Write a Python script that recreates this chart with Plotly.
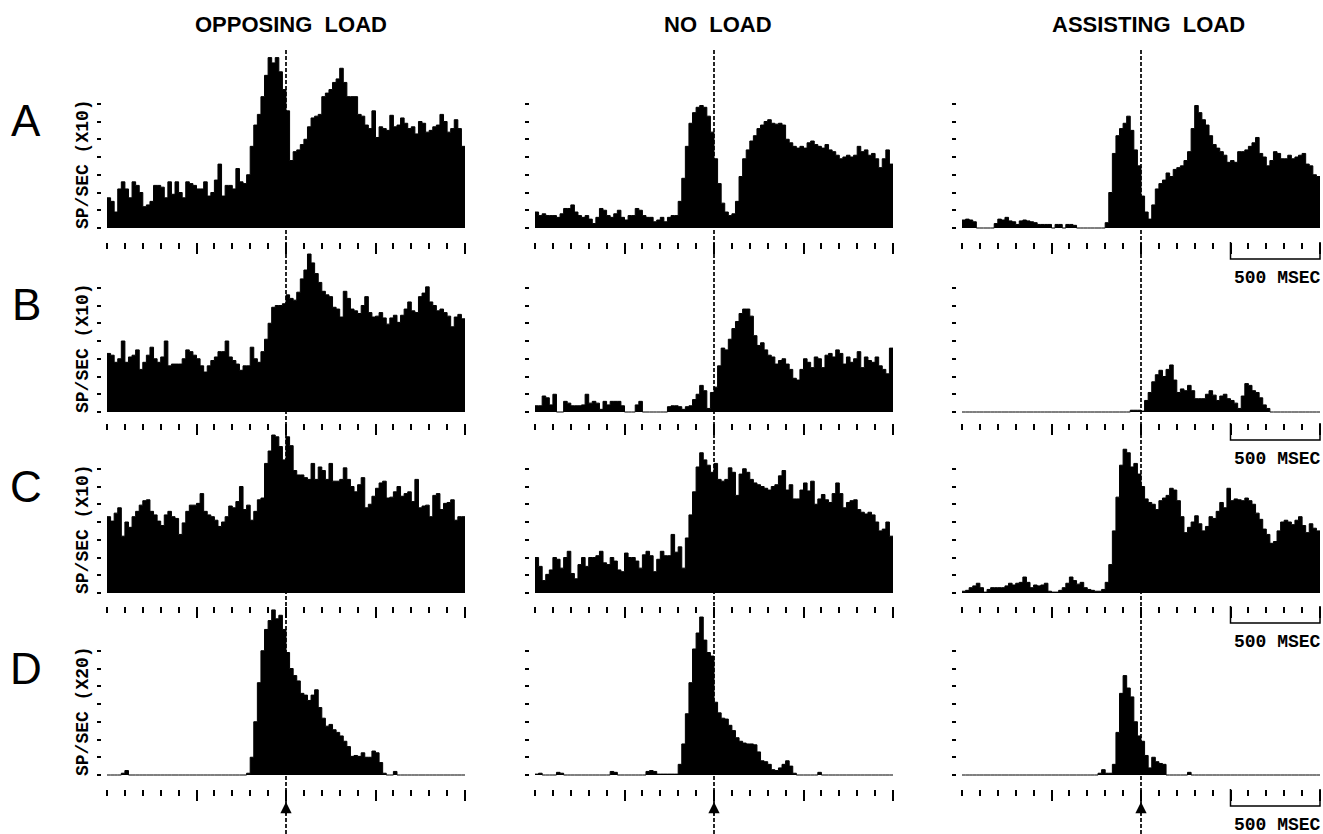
import plotly.graph_objects as go

# ---------------- data ----------------
BIN_MS = 20
T_START_MS = -1000
T_END_MS = 1000
EVENT_MS = 0
SCALE_BAR_MS = [500, 1000]
SCALE_LABEL = "500 MSEC"
COLUMN_TITLES = ["OPPOSING  LOAD", "NO  LOAD", "ASSISTING  LOAD"]
ROW_LETTERS = ["A", "B", "C", "D"]
Y_LABELS = ["SP/SEC (X10)", "SP/SEC (X10)", "SP/SEC (X10)", "SP/SEC (X20)"]
X_MAJOR_TICKS = [-500, 0, 500, 1000]
X_MINOR_TICKS = [-1000, -900, -800, -700, -600, -500, -400, -300, -200, -100, 0,
                 100, 200, 300, 400, 500, 600, 700, 800, 900, 1000]
Y_TICKS = [0, 1, 2, 3, 4, 5, 6, 7]

A_opposing = [1.7, 1.5, 0.9, 2.2, 2.6, 2.2, 1.7, 2.6, 2.4, 2.0,
              1.2, 1.3, 1.5, 2.4, 2.4, 2.3, 1.7, 2.6, 1.9, 2.6,
              2.0, 1.7, 2.6, 2.5, 2.4, 2.2, 2.2, 2.6, 1.8, 2.0,
              2.7, 3.6, 1.8, 2.4, 2.4, 2.2, 3.35, 2.6, 2.5, 3.0,
              4.6, 5.8, 6.4, 7.4, 8.6, 9.6, 9.3, 9.6, 8.8, 7.8,
              6.6, 3.8, 4.3, 4.4, 4.7, 5.0, 5.7, 6.2, 6.3, 6.4,
              7.4, 7.6, 7.8, 8.2, 8.4, 9.0, 8.2, 7.4, 7.4, 7.4,
              6.4, 6.3, 5.8, 5.6, 6.6, 5.1, 5.7, 5.6, 5.5, 6.35,
              5.7, 5.8, 6.2, 5.9, 5.6, 5.7, 5.3, 6.0, 5.9, 5.4,
              5.5, 5.7, 5.8, 6.4, 6.0, 5.4, 5.6, 6.1, 5.6, 4.6]
A_noload = [0.9, 0.7, 0.8, 0.7, 0.7, 0.7, 0.6, 0.8, 1.1, 1.1,
            1.3, 0.9, 0.7, 0.6, 0.7, 0.5, 0.25, 0.6, 1.1, 1.0,
            0.7, 0.6, 0.8, 1.0, 0.6, 0.45, 0.7, 0.7, 1.1, 1.0,
            0.7, 0.6, 0.6, 0.35, 0.45, 0.6, 0.35, 0.6, 0.7, 0.7,
            1.5, 2.8, 4.6, 5.9, 6.5, 6.8, 6.9, 6.8, 6.3, 5.4,
            3.9, 2.5, 1.4, 0.9, 0.7, 0.8, 1.5, 2.9, 3.9, 4.4,
            4.9, 5.2, 5.6, 5.8, 6.0, 6.1, 5.9, 5.85, 5.9, 5.8,
            5.0, 4.8, 4.6, 4.5, 4.6, 4.5, 4.8, 4.9, 4.7, 4.6,
            4.5, 4.7, 4.4, 4.3, 4.1, 3.9, 4.0, 4.1, 4.0, 4.1,
            4.6, 4.3, 4.4, 4.1, 4.2, 3.9, 3.4, 3.9, 4.4, 3.6]
A_assisting = [0.45, 0.5, 0.45, 0.35, 0, 0, 0, 0, 0, 0.25,
               0.5, 0.45, 0.6, 0.4, 0.35, 0.2, 0.4, 0.45, 0.4, 0.35,
               0.3, 0.2, 0.2, 0.2, 0.2, 0, 0.2, 0.2, 0, 0.2,
               0.2, 0.15, 0, 0, 0, 0, 0, 0, 0, 0,
               0.3, 2.0, 4.2, 5.2, 5.6, 5.9, 6.3, 5.5, 4.4, 3.5,
               1.8, 0.9, 0.5, 1.3, 2.2, 2.5, 2.7, 3.1, 2.9, 3.3,
               3.4, 3.5, 3.8, 4.3, 5.6, 6.9, 6.5, 6.1, 5.8, 5.2,
               4.7, 4.5, 4.3, 4.1, 3.7, 3.8, 3.7, 4.3, 4.3, 4.4,
               4.6, 4.8, 5.1, 4.2, 4.0, 3.5, 3.8, 4.3, 4.2, 3.9,
               3.9, 4.1, 3.9, 4.0, 4.1, 4.2, 3.6, 3.5, 3.0, 2.9]

B_opposing = [3.3, 3.2, 2.8, 3.0, 4.0, 2.8, 3.1, 3.2, 3.5, 2.4,
              2.8, 3.2, 3.65, 3.0, 2.8, 3.1, 4.0, 2.6, 2.7, 2.7,
              2.7, 3.0, 3.5, 3.4, 3.2, 3.0, 2.6, 2.25, 2.6, 2.9,
              3.1, 3.4, 3.4, 4.0, 3.1, 2.9, 2.7, 2.35, 2.6, 2.6,
              3.65, 3.0, 2.8, 3.4, 4.1, 5.0, 5.9, 6.0, 6.0, 6.1,
              6.6, 6.4, 6.3, 6.75, 7.5, 8.0, 8.9, 8.4, 7.8, 7.3,
              6.8, 6.6, 6.5, 5.9, 5.8, 5.35, 6.8, 6.4, 5.8, 5.7,
              5.55, 6.0, 6.5, 5.6, 5.35, 5.4, 5.6, 5.3, 4.95, 5.3,
              5.45, 5.05, 5.45, 5.8, 6.2, 5.7, 5.6, 6.5, 6.7, 7.05,
              6.2, 6.0, 5.7, 5.8, 5.6, 5.4, 4.8, 5.35, 5.5, 5.25]
B_noload = [0.35, 0.35, 0.9, 0.8, 0.4, 1.0, 0, 0, 0.6, 0.5,
            0.35, 0.35, 0.35, 0.4, 1.0, 0.5, 0.6, 0.5, 0.15, 0.6,
            0.4, 0.6, 0.6, 0.6, 0.35, 0, 0, 0, 0.4, 0.6,
            0, 0, 0, 0, 0, 0, 0, 0.3, 0.35, 0.35,
            0.3, 0.15, 0.3, 0.35, 0.7, 1.0, 1.5, 1.2, 0.2, 1.1,
            1.4, 2.6, 3.6, 3.5, 4.1, 4.7, 5.1, 5.55, 5.8, 5.8,
            5.4, 4.3, 3.75, 3.9, 3.5, 3.2, 3.1, 2.7, 2.9, 3.0,
            2.7, 2.4, 1.9, 1.8, 2.4, 3.0, 2.8, 2.5, 3.1, 3.0,
            2.5, 3.2, 3.3, 3.1, 3.5, 3.3, 2.7, 3.1, 2.8, 3.0,
            3.4, 2.5, 3.1, 2.9, 2.8, 3.1, 2.6, 2.4, 2.15, 3.6]
B_assisting = [0, 0, 0, 0, 0, 0, 0, 0, 0, 0,
               0, 0, 0, 0, 0, 0, 0, 0, 0, 0,
               0, 0, 0, 0, 0, 0, 0, 0, 0, 0,
               0, 0, 0, 0, 0, 0, 0, 0, 0, 0,
               0, 0, 0, 0, 0, 0, 0, 0.1, 0.1, 0.1,
               0.05, 0.65, 1.1, 1.7, 2.1, 2.35, 2.0, 2.4, 2.65, 1.8,
               1.1, 1.3, 1.2, 1.5, 1.2, 0.75, 0.75, 0.75, 1.0, 1.2,
               0.95, 0.65, 0.9, 1.0, 0.75, 0.65, 0.5, 0.2, 0.9, 1.6,
               1.5, 1.2, 1.1, 0.8, 0.4, 0.2, 0, 0, 0, 0,
               0, 0, 0, 0, 0, 0, 0, 0, 0, 0]

C_opposing = [4.3, 4.05, 4.5, 4.8, 3.2, 4.0, 3.7, 4.3, 4.6, 4.95,
              5.2, 5.25, 4.6, 4.4, 4.05, 3.8, 4.4, 4.6, 4.3, 4.2,
              3.3, 3.95, 4.6, 4.95, 4.95, 5.05, 5.6, 4.6, 4.4, 4.3,
              4.1, 3.75, 4.0, 4.3, 4.9, 4.8, 5.15, 6.0, 4.7, 4.95,
              4.1, 4.6, 5.25, 5.35, 7.3, 8.0, 8.9, 8.8, 8.25, 7.5,
              8.8, 8.3, 6.9, 6.65, 6.65, 6.5, 6.4, 7.3, 6.4, 7.1,
              6.9, 6.4, 7.3, 6.3, 6.3, 6.4, 7.05, 6.4, 6.0, 5.7,
              6.1, 6.5, 4.8, 5.0, 5.45, 5.9, 6.2, 6.3, 5.35, 5.4,
              5.7, 6.0, 5.45, 5.6, 5.7, 5.15, 6.4, 4.8, 4.9, 4.95,
              4.3, 5.5, 5.6, 4.7, 5.05, 5.1, 5.25, 4.1, 4.3, 4.3]
C_noload = [2.0, 1.5, 0.7, 1.05, 1.3, 2.0, 1.9, 1.4, 2.0, 2.35,
            1.1, 0.8, 1.6, 2.0, 1.5, 2.0, 2.0, 2.1, 2.35, 1.7,
            1.6, 2.0, 1.8, 1.3, 1.2, 2.25, 2.0, 2.0, 1.8, 1.4,
            2.15, 2.35, 2.1, 1.2, 1.9, 2.35, 2.1, 2.1, 3.3, 2.3,
            2.6, 1.4, 3.1, 4.4, 5.7, 7.1, 7.9, 7.5, 7.2, 6.8,
            7.3, 6.4, 6.3, 6.4, 7.05, 6.8, 5.5, 6.7, 7.0, 6.8,
            6.4, 6.2, 6.1, 6.0, 5.9, 5.8, 6.0, 6.1, 6.6, 6.9,
            5.8, 6.1, 5.3, 5.3, 5.8, 6.2, 5.75, 6.3, 5.0, 5.3,
            5.55, 5.25, 5.1, 5.6, 6.2, 5.6, 4.8, 5.1, 5.2, 5.25,
            4.7, 4.55, 4.45, 4.55, 4.4, 4.0, 3.5, 3.6, 4.0, 3.2]
C_assisting = [0.1, 0.15, 0.3, 0.4, 0.55, 0.3, 0.05, 0.2, 0.3, 0.3,
               0.3, 0.3, 0.4, 0.55, 0.45, 0.55, 0.6, 0.9, 0.6, 0.3,
               0.45, 0.4, 0.45, 0.55, 0.1, 0.05, 0.05, 0.15, 0.3, 0.55,
               0.9, 0.7, 0.5, 0.6, 0.3, 0.2, 0.15, 0.1, 0.1, 0.2,
               0.6, 1.6, 3.5, 5.4, 7.2, 8.1, 7.9, 7.1, 7.3, 6.7,
               6.0, 5.3, 5.1, 5.0, 4.7, 5.2, 5.35, 5.5, 5.9, 5.8,
               5.2, 4.3, 3.4, 3.7, 4.0, 4.35, 3.9, 3.5, 3.75, 4.3,
               4.2, 4.6, 5.1, 4.8, 5.9, 5.2, 5.3, 5.25, 5.2, 5.35,
               5.2, 5.0, 4.5, 4.15, 3.6, 3.3, 2.8, 2.9, 3.5, 4.0,
               4.1, 4.0, 3.85, 4.1, 4.3, 3.8, 3.4, 3.9, 3.65, 3.5]

D_opposing = [0, 0, 0, 0, 0.1, 0.25, 0, 0, 0, 0,
              0, 0, 0, 0, 0, 0, 0, 0, 0, 0,
              0, 0, 0, 0, 0, 0, 0, 0, 0, 0,
              0, 0, 0, 0, 0, 0, 0, 0, 0, 0.1,
              1.0, 3.0, 5.2, 7.0, 8.2, 8.7, 9.3, 8.8, 9.0, 8.2,
              6.9, 6.0, 5.6, 5.3, 4.6, 4.5, 4.2, 4.5, 4.8, 3.8,
              3.2, 2.75, 2.85, 2.55, 2.4, 2.2, 1.9, 1.6, 1.05, 1.1,
              1.05, 1.25, 1.0, 1.0, 1.35, 1.25, 0.7, 0.1, 0, 0,
              0.2, 0, 0, 0, 0, 0, 0, 0, 0, 0,
              0, 0, 0, 0, 0, 0, 0, 0, 0, 0]
D_noload = [0.05, 0.1, 0, 0, 0, 0, 0.15, 0.1, 0, 0,
            0, 0, 0, 0, 0, 0, 0, 0, 0, 0,
            0, 0.2, 0.15, 0, 0, 0, 0, 0, 0, 0,
            0, 0.2, 0.25, 0.2, 0.05, 0.05, 0.05, 0.05, 0.05, 0.05,
            0.6, 1.75, 3.45, 5.2, 7.1, 8.0, 8.9, 7.6, 6.9, 6.7,
            4.1, 3.5, 3.2, 3.15, 2.8, 2.5, 2.1, 1.9, 1.8, 1.75,
            1.75, 1.7, 1.3, 0.8, 0.75, 0.6, 0.3, 0.25, 0.4, 0.6,
            0.8, 0.5, 0.1, 0, 0, 0, 0, 0, 0, 0.15,
            0, 0, 0, 0, 0, 0, 0, 0, 0, 0,
            0, 0, 0, 0, 0, 0, 0, 0, 0, 0]
D_assisting = [0, 0, 0, 0, 0, 0, 0, 0, 0, 0,
               0, 0, 0, 0, 0, 0, 0, 0, 0, 0,
               0, 0, 0, 0, 0, 0, 0, 0, 0, 0,
               0, 0, 0, 0, 0, 0, 0, 0, 0.1, 0.3,
               0.1, 0.1, 0.6, 2.4, 4.6, 5.6, 4.9, 4.4, 3.0, 2.2,
               1.9, 1.1, 0.4, 1.0, 0.75, 0.65, 0.6, 0, 0, 0,
               0, 0, 0, 0.15, 0, 0, 0, 0, 0, 0,
               0, 0, 0, 0, 0, 0, 0, 0, 0, 0,
               0, 0, 0, 0, 0, 0, 0, 0, 0, 0,
               0, 0, 0, 0, 0, 0, 0, 0, 0, 0]

PANELS = [[A_opposing, A_noload, A_assisting],
          [B_opposing, B_noload, B_assisting],
          [C_opposing, C_noload, C_assisting],
          [D_opposing, D_noload, D_assisting]]

# ---------------- geometry (pixels) ----------------
W, H = 1323, 834
COL_X0 = [107, 535, 962]          # pixel of -1000 ms
COL_W = 358                       # pixels for 2000 ms
PAD_L, PAD_R = 5, 2
ROW_BASE = [228, 412, 593, 775]   # pixel of y = 0
ROW_AXIS = [242, 423, 606, 789]   # pixel of tick row
ROW_TOP = [45, 244, 418, 605]
UNIT_PX = 17.75
COL_TITLE_X = [291, 718, 1148]
s = COL_W / (T_END_MS - T_START_MS)

def py(px):
    return 1 - px / H

fig = go.Figure()
layout_axes = {}
for r in range(4):
    for c in range(3):
        k = r * 3 + c + 1
        suf = "" if k == 1 else str(k)
        vals = PANELS[r][c]
        xs = [T_START_MS + BIN_MS * i for i in range(len(vals) + 1)]
        ys = list(vals) + [vals[-1]]
        fig.add_trace(go.Scatter(
            x=xs, y=ys, xaxis="x" + suf, yaxis="y" + suf, mode="lines",
            line=dict(color="black", width=1, shape="hv"),
            fill="tozeroy", fillcolor="black", hoverinfo="skip", showlegend=False))
        x0 = COL_X0[c]
        layout_axes["xaxis" + suf] = dict(
            domain=[(x0 - PAD_L) / W, (x0 + COL_W + PAD_R) / W],
            range=[T_START_MS - PAD_L / s, T_END_MS + PAD_R / s],
            anchor="y" + suf, showgrid=False, zeroline=False, showline=False,
            tickmode="array", tickvals=X_MAJOR_TICKS, ticks="outside",
            ticklen=11, tickwidth=2, tickcolor="black", showticklabels=False,
            minor=dict(tickmode="array", tickvals=X_MINOR_TICKS, ticks="outside",
                       ticklen=6, tickwidth=2, tickcolor="black", showgrid=False),
            fixedrange=True)
        layout_axes["yaxis" + suf] = dict(
            domain=[py(ROW_AXIS[r]), py(ROW_TOP[r])],
            range=[-(ROW_AXIS[r] - ROW_BASE[r]) / UNIT_PX, (ROW_BASE[r] - ROW_TOP[r]) / UNIT_PX],
            anchor="x" + suf, showgrid=False, zeroline=False, showline=False,
            tickmode="array", tickvals=Y_TICKS, ticks="outside", ticklen=4,
            tickwidth=2, tickcolor="black", showticklabels=False, fixedrange=True)

shapes = []
annotations = []
for c in range(3):
    top_ax = "x" if c == 0 else "x" + str(c + 1)
    bot_ax = "x" + str(9 + c + 1)
    shapes.append(dict(type="line", xref=top_ax, yref="paper",
                       x0=EVENT_MS, x1=EVENT_MS, y0=py(50), y1=py(834),
                       line=dict(color="black", width=1.7, dash="4px,2px")))
    annotations.append(dict(xref=bot_ax, yref="paper", x=EVENT_MS, y=py(802),
                            ax=0, ay=14, text="", showarrow=True, arrowhead=2,
                            arrowsize=1.6, arrowwidth=1.4, arrowcolor="black"))
    annotations.append(dict(xref="paper", yref="paper", x=COL_TITLE_X[c] / W, y=py(24),
                            text=COLUMN_TITLES[c], showarrow=False,
                            xanchor="center", yanchor="middle",
                            font=dict(family="Liberation Sans", size=22, color="black",
                                      weight="bold")))

for r in range(4):
    annotations.append(dict(xref="paper", yref="paper", x=26 / W, y=py(ROW_BASE[r] - 107),
                            text=ROW_LETTERS[r], showarrow=False, xanchor="center",
                            yanchor="middle",
                            font=dict(family="Liberation Sans", size=44, color="black")))
    annotations.append(dict(xref="paper", yref="paper", x=83 / W, y=py(ROW_BASE[r] - 64),
                            text=Y_LABELS[r], showarrow=False, textangle=-90,
                            xanchor="center", yanchor="middle",
                            font=dict(family="Liberation Mono", size=18, color="black",
                                      weight="bold")))
    ax3 = "x" + str(r * 3 + 3)
    ya0 = py(ROW_AXIS[r])
    ya1 = py(ROW_AXIS[r] + 17)
    shapes.append(dict(type="path", xref=ax3, yref="paper",
                       path=f"M {SCALE_BAR_MS[0]},{ya0} L {SCALE_BAR_MS[0]},{ya1} "
                            f"L {SCALE_BAR_MS[1]},{ya1} L {SCALE_BAR_MS[1]},{ya0}",
                       line=dict(color="black", width=1.5)))
    annotations.append(dict(xref=ax3, yref="paper",
                            x=(SCALE_BAR_MS[0] + SCALE_BAR_MS[1]) / 2 + 10,
                            y=py(ROW_AXIS[r] + 36), text=SCALE_LABEL, showarrow=False,
                            xanchor="center", yanchor="middle",
                            font=dict(family="Liberation Mono", size=18, color="black",
                                      weight="bold")))

fig.update_layout(
    width=W, height=H, autosize=False,
    margin=dict(l=0, r=0, t=0, b=0, pad=0),
    paper_bgcolor="white", plot_bgcolor="rgba(0,0,0,0)",
    showlegend=False, shapes=shapes, annotations=annotations,
    **layout_axes)

fig.write_html("out.html", config={"displayModeBar": False})
